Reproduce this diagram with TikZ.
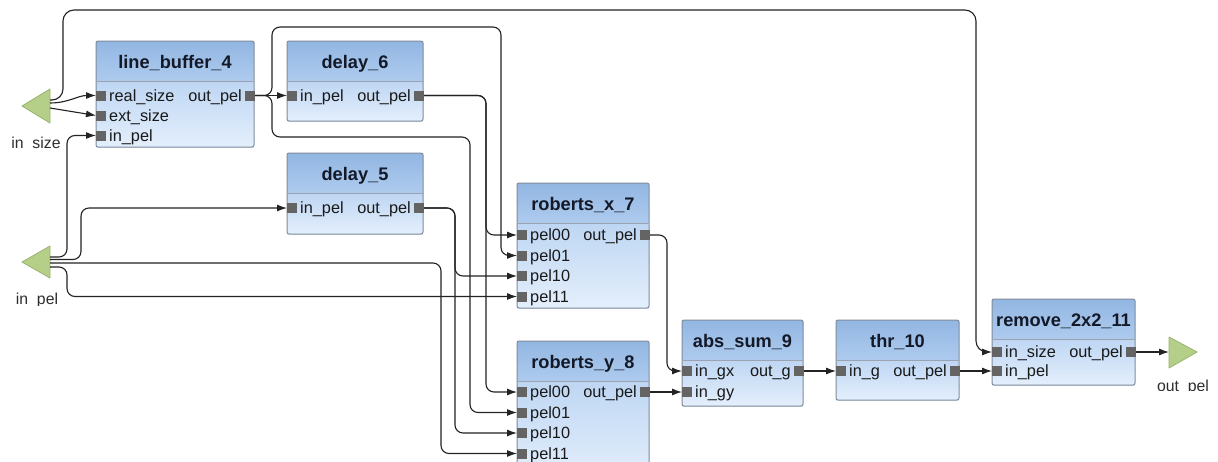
\documentclass[tikz,border=0pt]{standalone}
\usepackage{fontspec}
\setmainfont{Liberation Sans}
\usetikzlibrary{arrows.meta}
\definecolor{hdtop}{RGB}{146,182,226}
\definecolor{hdbot}{RGB}{174,203,238}
\definecolor{bdtop}{RGB}{190,214,243}
\definecolor{bdbot}{RGB}{228,239,252}
\definecolor{bord}{RGB}{128,140,155}
\definecolor{portc}{RGB}{100,100,100}
\definecolor{trifill}{RGB}{182,207,136}
\definecolor{tribord}{RGB}{150,180,108}
\definecolor{wirec}{RGB}{35,35,35}
\definecolor{titlec}{RGB}{20,25,40}
\definecolor{labc}{RGB}{25,25,25}
\definecolor{tlabc}{RGB}{45,45,45}

\newcommand{\blk}[6]{%
  \shade[top color=hdtop,bottom color=hdbot] (#2,#3) rectangle (#4,#3+40);
  \shade[top color=bdtop,bottom color=bdbot] (#2,#3+40) rectangle (#4,#5);
  \draw[bord,line width=1pt,rounded corners=2pt] (#2,#3) rectangle (#4,#5);
  \draw[bord!80,line width=0.8pt] (#2,#3+40) -- (#4,#3+40);
  \node[titletext,anchor=base] (#1) at ({(#2+#4)/2},#3+27.5) {#6};
}
\newcommand{\pin}[4]{%
  \node[port,anchor=west] (#1) at (#2,#3) {};
  \node[plabel,anchor=base west] (#1-l) at (#2+13,#3+5.5) {#4};
}
\newcommand{\pout}[4]{%
  \node[port] (#1) at (#2-4,#3) {};
  \node[plabel,anchor=base east] (#1-l) at (#2-12,#3+5.5) {#4};
}

\begin{document}
\begin{tikzpicture}[x=1pt,y=-1pt,
  titletext/.style={font=\bfseries\fontsize{18.2}{20}\selectfont,text=titlec,inner sep=0pt},
  plabel/.style={font=\fontsize{16.3}{18}\selectfont,text=labc,inner sep=0pt},
  tlabel/.style={font=\fontsize{15.8}{18}\selectfont,text=tlabc,inner sep=0pt},
  port/.style={fill=portc,minimum size=10pt,inner sep=0pt,draw=none},
  wire/.style={draw=wirec,line width=1.1pt,rounded corners=8pt,-{Latex[length=10pt,width=7pt]}},
  tri/.style={fill=trifill,draw=tribord,line width=0.8pt,line join=round}]
\useasboundingbox (0,0) rectangle (1218,461);
\clip (0,0) rectangle (1218,461);
\fill[white] (0,0) rectangle (1218,461);

% ---- terminals
\filldraw[tri] (50,89) -- (50,123) -- (22,106) -- cycle;
\filldraw[tri] (50,246) -- (50,278) -- (22,262) -- cycle;
\filldraw[tri] (1169,337) -- (1169,368) -- (1197,352) -- cycle;
\coordinate (isz-a) at (50,100);
\coordinate (isz-b) at (50,103);
\coordinate (isz-c) at (50,108);
\coordinate (ipl-a) at (50,257);
\coordinate (ipl-b) at (50,259.5);
\coordinate (ipl-c) at (50,263);
\coordinate (ipl-d) at (50,267);
\coordinate (opl) at (1169,352);
\begin{scope}
  \clip (0,0) rectangle (120,148.5);
  \node[tlabel,anchor=base] (isz-lbl) at (36,148) {in\_size};
\end{scope}
\begin{scope}
  \clip (0,0) rectangle (120,305);
  \node[tlabel,anchor=base] (ipl-lbl) at (37,304.5) {in\_pel};
\end{scope}
\begin{scope}
  \clip (1100,0) rectangle (1218,390.5);
  \node[tlabel,anchor=base] (opl-lbl) at (1183,391) {out\_pel};
\end{scope}

% ---- blocks
\blk{lb}{96}{41}{254}{147}{line\_buffer\_4}
\pin{lb-rs}{96}{95.5}{real\_size}
\pin{lb-es}{96}{115.5}{ext\_size}
\pin{lb-ip}{96}{135.5}{in\_pel}
\pout{lb-op}{254}{95.5}{out\_pel}

\blk{d6}{287}{41}{423}{121}{delay\_6}
\pin{d6-ip}{287}{95.5}{in\_pel}
\pout{d6-op}{423}{95.5}{out\_pel}

\blk{d5}{287}{153}{423}{234}{delay\_5}
\pin{d5-ip}{287}{208}{in\_pel}
\pout{d5-op}{423}{208}{out\_pel}

\blk{rx}{517}{183}{649}{308}{roberts\_x\_7}
\pin{rx-p00}{517}{235}{pel00}
\pin{rx-p01}{517}{255.5}{pel01}
\pin{rx-p10}{517}{276}{pel10}
\pin{rx-p11}{517}{296.5}{pel11}
\pout{rx-op}{649}{235}{out\_pel}

\blk{ry}{517}{341}{649}{480}{roberts\_y\_8}
\pin{ry-p00}{517}{392}{pel00}
\pin{ry-p01}{517}{412.5}{pel01}
\pin{ry-p10}{517}{433}{pel10}
\pin{ry-p11}{517}{453.5}{pel11}
\pout{ry-op}{649}{392}{out\_pel}

\blk{as}{682}{320}{803}{406}{abs\_sum\_9}
\pin{as-gx}{682}{371}{in\_gx}
\pin{as-gy}{682}{392}{in\_gy}
\pout{as-og}{803}{371}{out\_g}

\blk{thr}{836}{320}{959}{400}{thr\_10}
\pin{thr-ig}{836}{371}{in\_g}
\pout{thr-op}{959}{371}{out\_pel}

\blk{rm}{992}{299}{1135}{385}{remove\_2x2\_11}
\pin{rm-is}{992}{352}{in\_size}
\pin{rm-ip}{992}{371}{in\_pel}
\pout{rm-op}{1135}{352}{out\_pel}

% ---- wires
\draw[wire] (isz-b) to[out=0,in=180] (lb-rs.west);
\draw[wire] (isz-c) -- (lb-es.west);
\draw[wire,rounded corners=11pt] (isz-a) -- (63,100) -- (63,10) -- (976,10) |- (rm-is.west);

\draw[wire] (ipl-a) -- (67,257) |- (lb-ip.west);
\draw[wire] (ipl-b) -- (81,259.5) |- (d5-ip.west);
\draw[wire] (ipl-c) -- (441,263) |- (ry-p11.west);
\draw[wire] (ipl-d) -- (67,267) |- (rx-p11.west);

\draw[wire] (lb-op.east) -- (d6-ip.west);
\draw[wire] (lb-op.east) -- (272,95.5) -- (272,27) -- (501,27) |- (rx-p01.west);
\draw[wire] (lb-op.east) -- (272,95.5) -- (272,137) -- (470,137) |- (ry-p01.west);

\draw[wire] (d6-op.east) -- (486,95.5) |- (rx-p00.west);
\draw[wire] (d6-op.east) -- (486,95.5) |- (ry-p00.west);
\draw[wire] (d5-op.east) -- (455,208) |- (rx-p10.west);
\draw[wire] (d5-op.east) -- (455,208) |- (ry-p10.west);

\draw[wire] (rx-op.east) -- (667,235) |- (as-gx.west);
\draw[wire] (ry-op.east) -- (as-gy.west);
\draw[wire] (as-og.east) -- (thr-ig.west);
\draw[wire] (thr-op.east) -- (rm-ip.west);
\draw[wire] (rm-op.east) -- (opl);
\end{tikzpicture}
\end{document}
